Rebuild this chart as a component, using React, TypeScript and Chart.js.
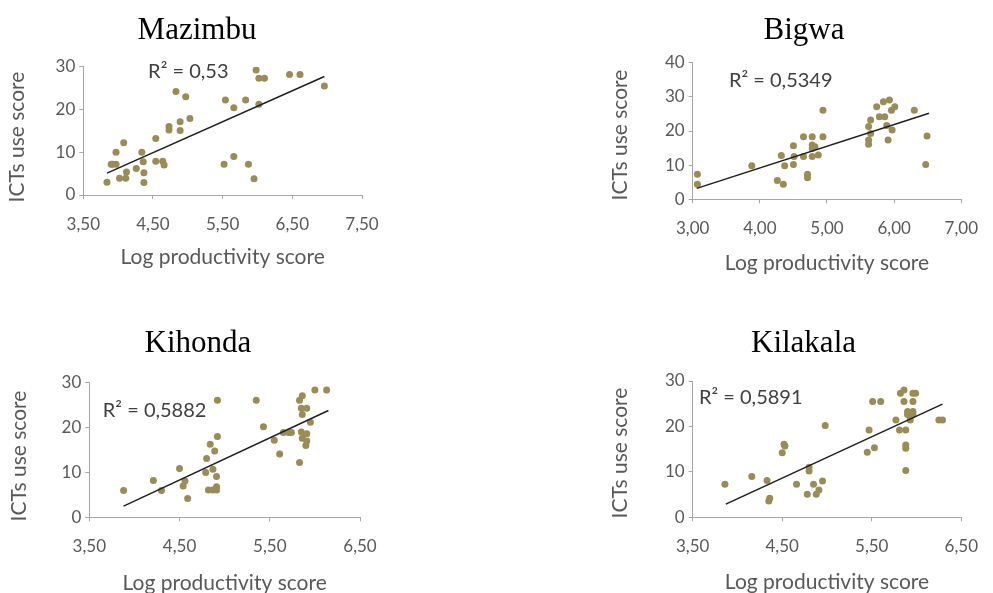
import React, { useEffect, useRef } from "react";
import { Chart, registerables } from "chart.js";

Chart.register(...registerables);

// ---------- data ----------
const mazimbuX = [3.84, 3.92, 3.90, 3.97, 3.97, 4.08, 4.02, 4.11, 4.12, 4.26, 4.34, 4.36, 4.37, 4.37, 4.54, 4.54, 4.64, 4.66, 4.73, 4.73, 4.83, 4.89, 4.89, 4.97, 5.03, 5.54, 5.52, 5.66, 5.66, 5.83, 5.87, 5.95, 5.98, 6.02, 6.10, 6.02, 6.46, 6.61, 6.96];
const mazimbuY = [3.0, 7.2, 7.2, 7.2, 10.0, 12.2, 3.9, 3.9, 5.4, 6.2, 10.0, 7.8, 5.2, 2.9, 13.2, 7.9, 7.9, 7.0, 16.0, 15.2, 24.2, 17.1, 15.1, 23.0, 17.9, 22.2, 7.2, 20.4, 9.0, 22.2, 7.2, 3.8, 29.2, 27.3, 27.3, 21.2, 28.2, 28.2, 25.5];
const mazimbuTrendX = [3.84, 6.96];
const mazimbuTrendY = [5.1, 27.7];

const bigwaX = [3.07, 3.07, 3.88, 4.26, 4.35, 4.32, 4.37, 4.50, 4.51, 4.50, 4.65, 4.78, 4.65, 4.71, 4.71, 4.78, 4.78, 4.82, 4.78, 4.87, 4.94, 4.94, 5.74, 5.84, 5.93, 6.01, 5.96, 5.78, 5.86, 5.65, 5.62, 5.89, 5.97, 5.65, 5.62, 5.62, 5.91, 6.30, 6.49, 6.47];
const bigwaY = [7.3, 4.4, 9.8, 5.5, 4.4, 12.8, 9.8, 15.7, 12.5, 10.2, 18.3, 18.3, 12.5, 7.3, 6.3, 15.9, 14.9, 15.4, 12.5, 13.0, 26.1, 18.3, 27.1, 28.6, 29.1, 27.1, 26.1, 24.2, 24.2, 23.2, 21.3, 21.6, 20.3, 19.3, 17.4, 16.1, 17.4, 26.1, 18.5, 10.2];
const bigwaTrendX = [3.06, 6.52];
const bigwaTrendY = [3.2, 25.2];

const kihondaX = [3.88, 4.21, 4.30, 4.50, 4.56, 4.54, 4.59, 4.80, 4.84, 4.92, 4.92, 4.79, 4.87, 4.89, 4.91, 4.82, 4.87, 4.91, 4.91, 5.35, 5.43, 5.55, 5.61, 5.65, 5.71, 5.74, 5.83, 5.83, 5.86, 5.85, 5.91, 5.86, 5.95, 5.85, 5.91, 5.86, 5.91, 5.90, 6.00, 6.13];
const kihondaY = [6.0, 8.2, 6.0, 10.9, 8.1, 7.0, 4.2, 13.1, 16.3, 18.0, 26.1, 10.0, 10.7, 14.8, 9.1, 6.1, 6.1, 6.1, 6.8, 26.1, 20.2, 17.2, 14.1, 18.9, 18.9, 18.9, 12.2, 26.1, 27.1, 24.3, 24.3, 22.9, 21.2, 19.0, 18.6, 17.6, 17.0, 16.0, 28.4, 28.4];
const kihondaTrendX = [3.88, 6.15];
const kihondaTrendY = [2.5, 23.8];

const kilakalaX = [3.86, 4.16, 4.33, 4.35, 4.36, 4.52, 4.53, 4.50, 4.66, 4.80, 4.80, 4.85, 4.78, 4.88, 4.91, 4.95, 4.98, 5.45, 5.53, 5.47, 5.51, 5.60, 5.77, 5.81, 5.88, 5.82, 5.86, 5.96, 5.99, 5.86, 5.96, 5.90, 5.96, 5.90, 5.96, 5.93, 5.88, 5.88, 5.88, 6.25, 6.29];
const kilakalaY = [7.3, 9.0, 8.1, 3.6, 4.2, 16.1, 15.7, 14.2, 7.3, 11.0, 10.2, 7.3, 5.1, 5.1, 6.0, 8.0, 20.2, 14.3, 15.3, 19.2, 25.5, 25.5, 21.4, 19.2, 19.2, 27.3, 28.0, 27.3, 27.3, 25.5, 25.5, 23.3, 23.3, 22.6, 22.6, 21.4, 15.9, 15.2, 10.3, 21.4, 21.4];
const kilakalaTrendX = [3.87, 6.29];
const kilakalaTrendY = [2.9, 24.9];

const xTicks350to750 = [3.5, 4.5, 5.5, 6.5, 7.5];
const xLabels350to750 = ["3,50", "4,50", "5,50", "6,50", "7,50"];
const xTicks300to700 = [3, 4, 5, 6, 7];
const xLabels300to700 = ["3,00", "4,00", "5,00", "6,00", "7,00"];
const xTicks350to650 = [3.5, 4.5, 5.5, 6.5];
const xLabels350to650 = ["3,50", "4,50", "5,50", "6,50"];
const yTicks30 = [0, 10, 20, 30];
const yTicks40 = [0, 10, 20, 30, 40];

const r2Labels = ["R² = 0,53", "R² = 0,5349", "R² = 0,5882", "R² = 0,5891"];
const r2AtX = [4.43, 3.54, 3.65, 3.57];
const r2AtY = [28.8, 34.9, 23.9, 26.3];

const panelTitles = ["Mazimbu", "Bigwa", "Kihonda", "Kilakala"];
const xAxisTitle = "Log productivity score";
const yAxisTitle = "ICTs use score";

// ---------- styles ----------
const DOT = "#9a8c56";
const AXIS = "#a6a6a6";
const TEXT = "#595959";
const SANS = "Lato, 'Noto Sans', sans-serif";
const TICK_SIZE = 17;
const AXT_SIZE = 21;
const AXT_LH = AXT_SIZE * 1.2;

type Panel = {
  xs: number[]; ys: number[]; tx: number[]; ty: number[];
  xTicks: number[]; xLabels: string[]; yTicks: number[];
  idx: number;
  canvas: { x: number; y: number; w: number; h: number };
  area: { l: number; r: number; t: number; b: number };
  yTitleX: number; yTitleY: number; xTitleY: number; titleX: number; titleY: number;
  xPad: number;
};

const panels: Panel[] = [
  {
    xs: mazimbuX, ys: mazimbuY, tx: mazimbuTrendX, ty: mazimbuTrendY,
    xTicks: xTicks350to750, xLabels: xLabels350to750, yTicks: yTicks30, idx: 0,
    canvas: { x: 0, y: 0, w: 496, h: 296 },
    area: { l: 83.3, r: 362, t: 66.7, b: 195 },
    yTitleX: 17, yTitleY: 137, xTitleY: 257, titleX: 197, titleY: 38.5, xPad: 15,
  },
  {
    xs: bigwaX, ys: bigwaY, tx: bigwaTrendX, ty: bigwaTrendY,
    xTicks: xTicks300to700, xLabels: xLabels300to700, yTicks: yTicks40, idx: 1,
    canvas: { x: 496, y: 0, w: 497, h: 296 },
    area: { l: 692.7, r: 968.3, t: 62.7, b: 199.3 },
    yTitleX: 620, yTitleY: 135, xTitleY: 263, titleX: 804, titleY: 38.5, xPad: 15,
  },
  {
    xs: kihondaX, ys: kihondaY, tx: kihondaTrendX, ty: kihondaTrendY,
    xTicks: xTicks350to650, xLabels: xLabels350to650, yTicks: yTicks30, idx: 2,
    canvas: { x: 0, y: 296, w: 496, h: 312 },
    area: { l: 89.3, r: 360, t: 382.7, b: 517.3 },
    yTitleX: 19, yTitleY: 456, xTitleY: 583, titleX: 198, titleY: 352, xPad: 15,
  },
  {
    xs: kilakalaX, ys: kilakalaY, tx: kilakalaTrendX, ty: kilakalaTrendY,
    xTicks: xTicks350to650, xLabels: xLabels350to650, yTicks: yTicks30, idx: 3,
    canvas: { x: 496, y: 296, w: 497, h: 312 },
    area: { l: 692.7, r: 968.3, t: 381, b: 517.3 },
    yTitleX: 620, yTitleY: 453, xTitleY: 582, titleX: 803.5, titleY: 352, xPad: 15,
  },
];

const annotatePlugin = {
  id: "annotate",
  afterDatasetsDraw(chart: any, _args: any, opts: any) {
    const { ctx, scales } = chart;
    ctx.save();
    ctx.font = "31px 'Liberation Serif', 'Times New Roman', serif";
    ctx.fillStyle = "#000";
    ctx.textAlign = "center";
    ctx.textBaseline = "alphabetic";
    ctx.fillText(opts.title, opts.titleX, opts.titleY);

    ctx.font = `20px ${SANS}`;
    ctx.fillStyle = "#404040";
    ctx.textAlign = "left";
    ctx.textBaseline = "middle";
    ctx.fillText(opts.r2, scales.x.getPixelForValue(opts.r2x), scales.y.getPixelForValue(opts.r2y));

    ctx.translate(opts.yTitleX, opts.yTitleY);
    ctx.rotate(-Math.PI / 2);
    ctx.font = `${AXT_SIZE}px ${SANS}`;
    ctx.fillStyle = TEXT;
    ctx.textAlign = "center";
    ctx.textBaseline = "middle";
    ctx.fillText(opts.yTitle, 0, 0);
    ctx.restore();
  },
};

function PanelChart({ p }: { p: Panel }) {
  const ref = useRef<HTMLCanvasElement>(null);
  useEffect(() => {
    if (!ref.current) return;
    const c = p.canvas;
    const yAxisLeft = p.yTitleX - AXT_LH / 2;
    const padL = yAxisLeft - c.x;
    const yW = p.area.l - yAxisLeft;
    const padR = c.x + c.w - p.area.r;
    const padT = p.area.t - c.y;
    const xBottom = p.xTitleY + AXT_LH / 2;
    const padB = c.y + c.h - xBottom;
    const hx = xBottom - p.area.b;
    const xMin = p.xTicks[0];
    const xMax = p.xTicks[p.xTicks.length - 1];
    const yMax = p.yTicks[p.yTicks.length - 1];

    const chart = new Chart(ref.current, {
      type: "scatter",
      data: {
        datasets: [
          {
            type: "line",
            data: p.tx.map((x, i) => ({ x, y: p.ty[i] })),
            borderColor: "#1f1f1f",
            borderWidth: 1.5,
            pointRadius: 0,
            fill: false,
            order: 0,
          } as any,
          {
            type: "scatter",
            data: p.xs.map((x, i) => ({ x, y: p.ys[i] })),
            backgroundColor: DOT,
            pointBackgroundColor: DOT,
            pointRadius: 3.5,
            pointBorderWidth: 0,
            borderWidth: 0,
            order: 1,
          } as any,
        ],
      },
      options: {
        animation: false,
        responsive: false,
        maintainAspectRatio: false,
        events: [],
        layout: { padding: { left: padL, right: padR, top: padT, bottom: padB } },
        plugins: {
          legend: { display: false },
          tooltip: { enabled: false },
          title: { display: false },
          annotate: {
            title: panelTitles[p.idx],
            titleX: p.titleX - c.x,
            titleY: p.titleY - c.y,
            r2: r2Labels[p.idx],
            r2x: r2AtX[p.idx],
            r2y: r2AtY[p.idx],
            yTitle: yAxisTitle,
            yTitleX: p.yTitleX - c.x,
            yTitleY: p.yTitleY - c.y,
          },
        } as any,
        scales: {
          x: {
            type: "linear",
            min: xMin,
            max: xMax,
            afterBuildTicks: (s: any) => { s.ticks = p.xTicks.map((v) => ({ value: v })); },
            afterFit: (s: any) => { s.height = hx; },
            ticks: {
              callback: (v: any) => p.xLabels[p.xTicks.indexOf(Number(v))] ?? "",
              font: { family: SANS, size: TICK_SIZE },
              color: TEXT,
              padding: p.xPad,
              maxRotation: 0,
              autoSkip: false,
            },
            grid: { display: true, drawOnChartArea: false, drawTicks: true, tickLength: 4, color: AXIS },
            border: { display: true, color: AXIS, width: 1 },
            title: { display: true, text: xAxisTitle, font: { family: SANS, size: AXT_SIZE }, color: TEXT, padding: 0 },
          },
          y: {
            type: "linear",
            min: 0,
            max: yMax,
            afterBuildTicks: (s: any) => { s.ticks = p.yTicks.map((v) => ({ value: v })); },
            afterFit: (s: any) => { s.width = yW; },
            ticks: {
              callback: (v: any) => String(v),
              font: { family: SANS, size: TICK_SIZE },
              color: TEXT,
              padding: 4,
              autoSkip: false,
            },
            grid: { display: true, drawOnChartArea: false, drawTicks: true, tickLength: 4, color: AXIS },
            border: { display: true, color: AXIS, width: 1 },
            title: { display: false },
          },
        },
      },
      plugins: [annotatePlugin as any],
    });
    return () => chart.destroy();
  }, [p]);

  return (
    <canvas
      ref={ref}
      width={p.canvas.w}
      height={p.canvas.h}
      style={{ position: "absolute", left: p.canvas.x, top: p.canvas.y, width: p.canvas.w, height: p.canvas.h }}
    />
  );
}

export default function App() {
  return (
    <div style={{ position: "absolute", left: 0, top: 0, width: 993, height: 593, overflow: "hidden", background: "#fff" }}>
      {panels.map((p) => (
        <PanelChart key={p.idx} p={p} />
      ))}
    </div>
  );
}
